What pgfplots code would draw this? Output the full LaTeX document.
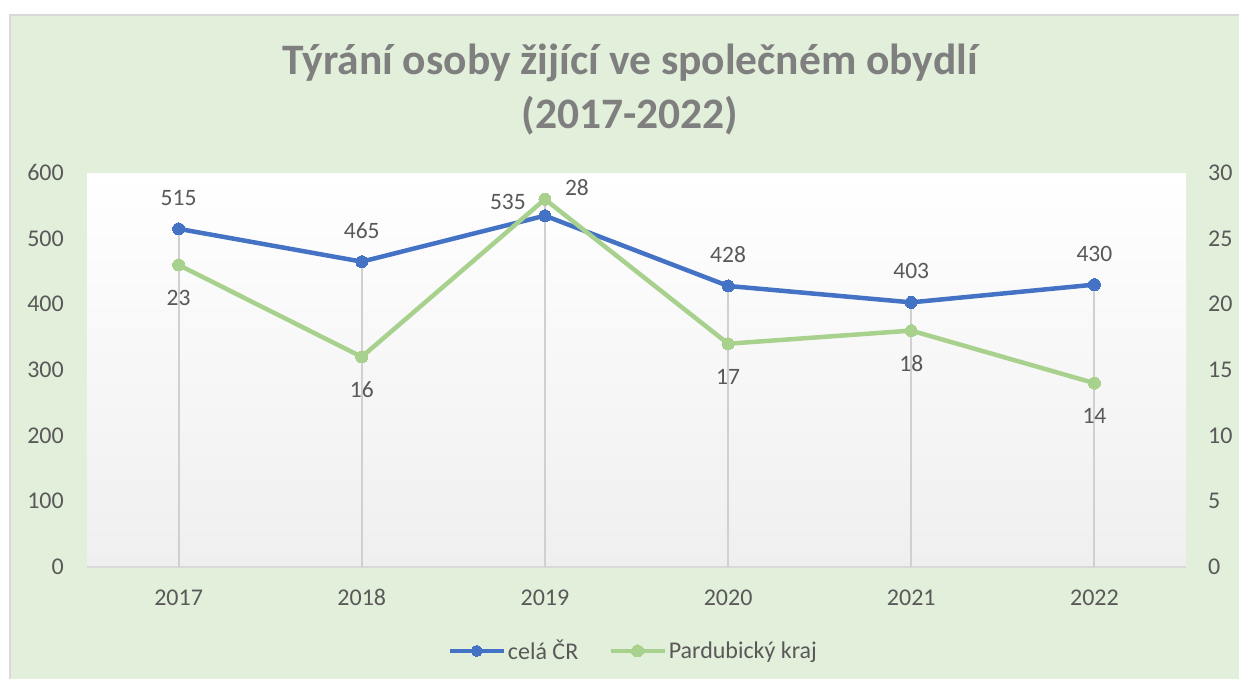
\documentclass[border=0pt]{standalone}
\usepackage{fontspec}
\setmainfont{Carlito}
\usepackage{pgfplots}
\pgfplotsset{compat=1.18}
\definecolor{bg}{HTML}{E2EFDA}
\definecolor{framegray}{HTML}{D9D9D9}
\definecolor{titlegray}{HTML}{7F7F7F}
\definecolor{labelgray}{HTML}{595959}
\definecolor{dropgray}{HTML}{D0D0D0}
\definecolor{cblue}{HTML}{4472C4}
\definecolor{cgreen}{HTML}{A9D18E}
\definecolor{plotbottom}{HTML}{EFEFEF}
\begin{document}
\begin{tikzpicture}[x=1pt,y=1pt]
\path[use as bounding box] (0,0) rectangle (1239,-679);
\fill[white] (0,0) rectangle (1239,-679);
\filldraw[fill=bg, draw=framegray, line width=1.5pt] (10,-15) rectangle (1250,-690);
\node[anchor=base, font=\fontsize{43.5}{50}\selectfont\bfseries, text=titlegray] at (630,-75) {Týrání osoby žijící ve společném obydlí};
\node[anchor=base, font=\fontsize{43.5}{50}\selectfont\bfseries, text=titlegray] at (630,-129) {(2017-2022)};
\pgfplotsset{
  /pgf/number format/assume math mode=true,
  /pgf/number format/1000 sep={},
  every axis/.append style={
    at={(87pt,-567pt)}, anchor=south west,
    width=1099pt, height=394pt, scale only axis,
    xmin=2016.5, xmax=2022.5,
    major tick length=0pt,
    tick style={draw=none},
    tick label style={font=\fontsize{24}{28}\selectfont, text=labelgray, inner sep=0pt},
  },
}
\begin{axis}[
  ymin=0, ymax=600, ytick={0,100,...,600},
  xtick={2017,2018,2019,2020,2021,2022},
  axis x line*=bottom, axis y line*=left,
  y axis line style={draw=none},
  x axis line style={draw=framegray, line width=1.5pt},
  yticklabel style={anchor=base east, xshift=-23pt, yshift=-7.6pt},
  xticklabel style={anchor=base, yshift=-38.6pt},
  axis background/.style={shade, top color=white, bottom color=plotbottom, draw=none},
  clip=false,
]
\addplot[ycomb, draw=dropgray, line width=2pt, mark=none, forget plot]
  coordinates {(2017,515)(2018,465)(2019,560)(2020,428)(2021,403)(2022,430)};
\addplot[cblue, line width=4.5pt, mark=*, mark size=6pt, mark options={fill=cblue, draw=cblue, line width=0pt},
  nodes near coords,
  every node near coord/.append style={font=\fontsize{23.5}{27}\selectfont, text=labelgray, anchor=base, inner sep=0pt, yshift=23.6pt},
  coordinate style/.condition={x==2019}{xshift=-37pt, yshift=-17pt},
] coordinates {(2017,515)(2018,465)(2019,535)(2020,428)(2021,403)(2022,430)};
\end{axis}
\begin{axis}[
  ymin=0, ymax=30, ytick={0,5,...,30},
  axis x line=none, axis y line*=right,
  y axis line style={draw=none},
  yticklabel style={anchor=base west, xshift=22pt, yshift=-7.6pt},
  clip=false,
  legend style={at={(0.497,-0.213)}, anchor=center, draw=none, fill=none,
    legend columns=2, font=\fontsize{24}{28}\selectfont, text=labelgray,
    /tikz/every even column/.append style={column sep=28pt},
    legend cell align=left},
  legend image code/.code={\draw[mark repeat=2,mark phase=2,#1] plot coordinates {(0pt,0pt) (27pt,0pt) (54pt,0pt)};},
]
\addlegendimage{cblue, line width=4.5pt, mark=*, mark size=5.5pt, mark options={fill=cblue, draw=cblue, line width=0pt}}
\addlegendentry{celá ČR}
\addplot[cgreen, line width=4.5pt, mark=*, mark size=6pt, mark options={fill=cgreen, draw=cgreen, line width=0pt},
  nodes near coords,
  every node near coord/.append style={font=\fontsize{23.5}{27}\selectfont, text=labelgray, anchor=base, inner sep=0pt, yshift=-40.4pt},
  coordinate style/.condition={x==2019}{xshift=32pt, yshift=44pt},
] coordinates {(2017,23)(2018,16)(2019,28)(2020,17)(2021,18)(2022,14)};
\addlegendentry{Pardubický kraj}
\end{axis}
\end{tikzpicture}
\end{document}
